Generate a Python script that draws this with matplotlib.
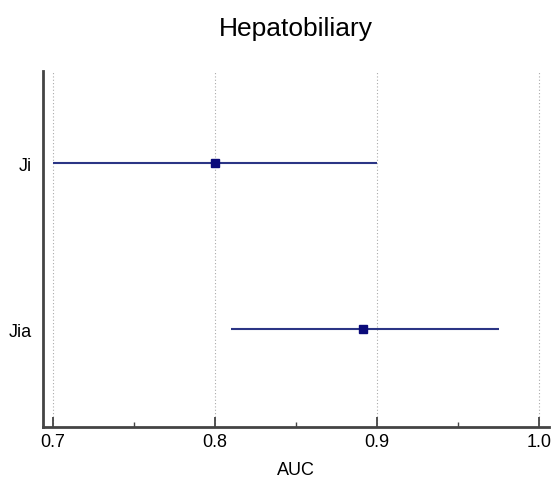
import matplotlib
matplotlib.use("Agg")
import matplotlib.pyplot as plt
from matplotlib.ticker import MultipleLocator

plt.rcParams["font.family"] = ["Liberation Sans", "DejaVu Sans"]

# AUC with 95% CI per model
labels = ["Ji", "Jia"]
auc = [0.800, 0.891]
ci_low = [0.700, 0.810]
ci_high = [0.900, 0.975]

fig = plt.figure(figsize=(5.56, 4.85), dpi=100)
ax = fig.add_axes([0.0773, 0.1175, 0.9101, 0.734])

ypos = [1, 0]
for y, lo, hi, m in zip(ypos, ci_low, ci_high, auc):
    ax.hlines(y, lo, hi, color="#2b3585", linewidth=1.5, zorder=3)
    ax.plot(m, y, marker="s", markersize=6, color="#0b0b7a", zorder=4)

ax.set_xlim(0.6938, 1.006)
ax.set_ylim(-0.59, 1.554)
ax.set_yticks(ypos)
ax.set_yticklabels(labels, fontsize=13)
ax.tick_params(axis="y", length=0, pad=8)

ax.xaxis.set_major_locator(MultipleLocator(0.1))
ax.xaxis.set_minor_locator(MultipleLocator(0.05))
ax.set_xticks([0.7, 0.8, 0.9, 1.0])
ax.set_xticklabels(["0.7", "0.8", "0.9", "1.0"], fontsize=13)
ax.tick_params(axis="x", which="major", direction="in", length=7, width=1.3,
               color="#444444", pad=4)
ax.tick_params(axis="x", which="minor", direction="in", length=3.5, width=1,
               color="#444444")
ax.grid(axis="x", which="major", linestyle=(0, (1, 2)), color="#aaaaaa",
        linewidth=0.8)

for side in ("top", "right"):
    ax.spines[side].set_visible(False)
for side in ("left", "bottom"):
    ax.spines[side].set_color("#444444")
    ax.spines[side].set_linewidth(2)

ax.set_xlabel("AUC", fontsize=13, labelpad=8)
fig.text(0.532, 0.94, "Hepatobiliary", ha="center", va="center", fontsize=19)

fig.savefig("out.png", dpi=100)
